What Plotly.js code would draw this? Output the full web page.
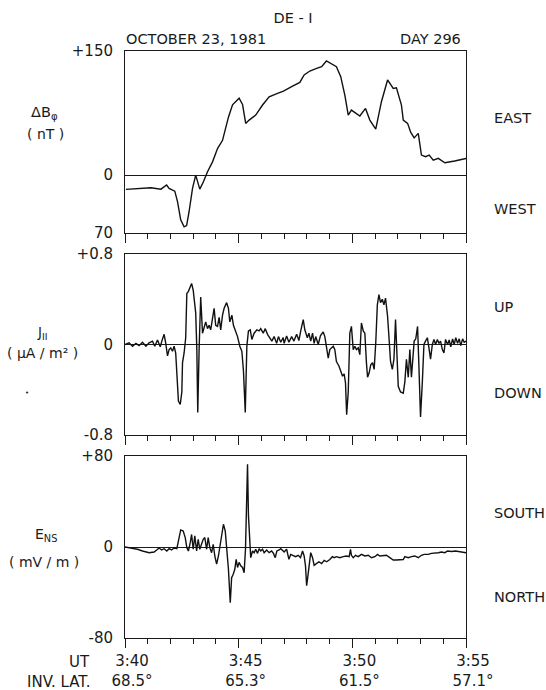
<!DOCTYPE html>
<html><head><meta charset="utf-8">
<script src="https://cdn.plot.ly/plotly-3.0.1.min.js"></script>
<style>html,body{margin:0;padding:0;background:#fff}#chart{width:546px;height:690px}</style>
</head><body><div id="chart"></div>
<script>
// Time in minutes after 03:40 UT (DE-1, October 23, 1981, day 296)
const dbTime = [0.04,0.55,1.14,1.58,1.83,1.94,2.19,2.31,2.45,2.60,2.71,2.82,2.97,3.11,3.29,3.45,3.63,3.85,4.07,4.29,4.43,4.55,4.73,5.02,5.17,5.31,5.46,5.75,6.05,6.34,6.71,6.97,7.33,7.69,7.88,8.13,8.43,8.65,8.86,9.08,9.30,9.49,9.67,9.82,9.96,10.33,10.58,10.77,11.03,11.28,11.55,11.80,11.94,12.16,12.24,12.43,12.57,12.72,12.90,13.04,13.22,13.38,13.56,13.78,14.07,14.5,15.0];
const dbValue = [-17.3,-16,-15.3,-17,-12,-16,-19.4,-32,-54,-62.5,-61,-44,-16,0,-17,-8,4,16,32,42,58,70,85,93,85.5,62.5,66.5,72.6,84.7,94.7,98.8,101.6,106.8,112,121,125.8,129,131,138,134,131,119,96.8,72.6,78.6,71.4,80.6,66.5,55.6,88.7,115,104.8,105.6,84.7,66.5,62.5,51.6,45,50.4,24.2,22.2,24.2,18.1,20.2,14.9,17,20];

const jTime = [0.00,0.18,0.33,0.48,0.62,0.77,0.92,1.06,1.21,1.31,1.43,1.55,1.62,1.72,1.79,1.87,1.94,2.01,2.09,2.16,2.23,2.31,2.35,2.43,2.50,2.53,2.60,2.67,2.72,2.79,2.87,2.93,3.00,3.07,3.11,3.16,3.20,3.26,3.33,3.41,3.48,3.55,3.63,3.70,3.77,3.85,3.92,3.99,4.07,4.14,4.21,4.29,4.36,4.47,4.55,4.61,4.70,4.77,4.85,4.95,5.05,5.14,5.21,5.29,5.36,5.43,5.51,5.58,5.68,5.80,5.90,5.97,6.08,6.17,6.27,6.37,6.46,6.56,6.67,6.75,6.85,6.96,7.00,7.11,7.21,7.33,7.43,7.55,7.65,7.73,7.84,7.91,8.02,8.09,8.17,8.25,8.32,8.39,8.50,8.60,8.72,8.79,8.87,8.94,9.01,9.08,9.16,9.23,9.30,9.41,9.49,9.57,9.64,9.70,9.75,9.82,9.89,9.96,10.04,10.11,10.18,10.26,10.33,10.40,10.48,10.55,10.62,10.67,10.74,10.81,10.89,10.96,11.03,11.10,11.17,11.24,11.32,11.39,11.46,11.55,11.61,11.68,11.76,11.83,11.90,11.94,12.02,12.12,12.24,12.31,12.38,12.46,12.53,12.60,12.68,12.72,12.79,12.87,12.93,13.00,13.08,13.15,13.22,13.30,13.37,13.44,13.52,13.59,13.66,13.74,13.81,13.88,13.96,14.03,14.10,14.19,14.26,14.33,14.41,14.48,14.55,14.63,14.70,14.77,14.85,14.92,15.0];
const jValue = [0,0.015,-0.015,0.01,-0.01,0.02,-0.015,0.015,0.03,-0.015,0.04,-0.02,0.03,0.09,0.015,-0.1,-0.045,-0.03,-0.06,-0.015,-0.075,-0.34,-0.5,-0.53,-0.42,-0.16,-0.075,0.06,0.45,0.47,0.51,0.54,0.48,0.31,0.28,-0.045,-0.6,-0.045,0.42,0.1,0.16,0.2,0.14,0.17,0.13,0.26,0.32,0.17,0.16,0.24,0.13,0.26,0.32,0.37,0.32,0.2,0.26,0.17,0.13,0.07,-0.015,-0.06,-0.23,-0.6,-0.015,0.12,0.13,0.045,0.1,0.13,0.12,0.14,0.1,0.14,0.09,0.06,0.03,0.07,0.01,0.07,0.02,0.06,0.01,0.075,0.02,0.07,0.03,0.09,0.035,0.12,0.22,0.13,0.06,0.1,0.03,0.1,0.01,0.07,0,0.08,0.11,0.07,-0.045,-0.12,-0.045,-0.03,-0.015,-0.045,-0.15,-0.19,-0.23,-0.28,-0.26,-0.34,-0.62,-0.42,0.1,0.16,-0.045,-0.015,-0.045,-0.03,-0.09,0.19,0.12,0.1,-0.16,-0.29,-0.25,-0.18,-0.16,-0.22,0.015,0.35,0.44,0.37,0.4,0.35,0.41,0.25,0.07,-0.15,-0.22,-0.13,0.22,-0.045,-0.37,-0.42,-0.43,-0.33,-0.13,-0.29,-0.045,-0.29,-0.07,0.03,0.05,0.16,-0.2,-0.64,-0.33,0,0.03,0.06,-0.03,-0.13,0,0.045,0,0.045,0.01,0.03,-0.045,-0.075,0.045,0,0.04,-0.02,0.05,0,0.06,0.01,0.05,-0.01,0.05,0.02,0.03];

const eTime = [0,0.26,0.55,0.77,1.06,1.28,1.43,1.50,1.61,1.72,1.84,1.94,2.05,2.16,2.28,2.35,2.45,2.56,2.65,2.72,2.79,2.87,2.93,3.00,3.07,3.15,3.22,3.29,3.37,3.44,3.51,3.59,3.66,3.73,3.81,3.88,3.95,4.03,4.11,4.19,4.26,4.33,4.41,4.48,4.55,4.63,4.69,4.76,4.83,4.89,4.95,5.02,5.09,5.17,5.24,5.30,5.35,5.39,5.43,5.49,5.53,5.61,5.68,5.75,5.83,5.90,5.97,6.05,6.12,6.23,6.34,6.45,6.53,6.61,6.68,6.78,6.85,6.96,7.00,7.11,7.21,7.29,7.40,7.50,7.62,7.72,7.81,7.88,7.94,7.99,8.03,8.09,8.17,8.25,8.32,8.42,8.53,8.65,8.76,8.87,9.01,9.12,9.20,9.30,9.45,9.60,9.74,9.86,9.92,9.96,10.04,10.14,10.26,10.40,10.55,10.70,10.84,10.99,11.11,11.21,11.36,11.50,11.65,11.80,11.94,12.09,12.24,12.31,12.46,12.60,12.75,12.90,13.04,13.16,13.34,13.48,13.63,13.78,13.92,14.07,14.19,14.36,14.54,14.72,15.0];
const eValue = [0,-0.9,-2,-3.5,-5,-4.4,-2,-0.9,-2.6,-1.5,-3.5,-1.5,-2.6,-0.9,-1.5,6.8,15,14,8.3,-0.6,-3.5,3.8,11,-2,9.8,-3.5,6.8,-2,2.4,6.8,8.3,-2,8.3,-0.6,-5,2.4,-7.9,-15,-7.9,3.8,12.6,20,14,-2,-19.6,-48.9,-27,-24,-19.6,-10.8,-18,-13.5,-16.5,-18,-22.6,-2,42,72.7,28,-2,-9.4,-3.5,-5,-2,-5.6,-1.5,-3.5,-2,-5,-2.6,-5,-3.5,-5.6,-9.4,-3.5,-2.6,-1.5,-3.5,-4.4,-2,-10.8,-6.5,-7.3,-8.5,-7.3,-9.4,-3.5,-7.9,-16.7,-34,-28,-16,-5,-9.4,-16,-14.6,-13,-14.6,-11.7,-13,-11,-8.5,-9.4,-8.5,-9.4,-8.5,-7.9,-8.5,-2,-7.3,-9.4,-7.3,-8.5,-6.5,-7.9,-7.3,-9.4,-8.5,-6.5,-7.9,-7.3,-7.3,-9.4,-11.4,-11.4,-11,-11,-8.5,-9.4,-8.5,-7.9,-9.4,-7.3,-6.5,-6.5,-5.6,-5.6,-5,-4.4,-5,-3.5,-4,-3.5,-4,-5];

const utTicks = [0,5,10,15];
const utLabels = ['3:40','3:45','3:50','3:55'];
const invLatLabels = ['68.5°','65.3°','61.5°','57.1°'];
const minuteTicks = [1,2,3,4,6,7,8,9,11,12,13,14];

const W=546,H=690,L=125,R=80,T=51,B=52;
const PW=W-L-R, PH=H-T-B;
const px = x => (x-L)/PW;
const py = y => (H-B-y)/PH;
const FONT = 'DejaVu Sans';
const INK = '#1a1a1a';

function xAxis(anchor, labels){
  const a = {
    range:[0,15], showline:true, mirror:true, linecolor:INK, linewidth:1,
    showgrid:false, zeroline:false, fixedrange:true, anchor:anchor,
    tickmode:'array', tickvals:utTicks, ticks:'outside', ticklen:9, tickwidth:1, tickcolor:INK,
    minor:{tickmode:'array', tickvals:minuteTicks, ticks:'outside', ticklen:5, tickwidth:1, tickcolor:INK, showgrid:false},
    showticklabels:!!labels
  };
  if(labels){
    a.ticktext = utLabels.map((u,i)=>u+'<br>'+invLatLabels[i]);
    a.tickfont = {family:FONT,size:15,color:INK};
    a.ticklabelshift = 7;
  }
  return a;
}
function yAxis(domain, range, vals, text){
  return {domain:domain, range:range, tickmode:'array', tickvals:vals, ticktext:text,
    ticks:'', showline:true, mirror:true, linecolor:INK, linewidth:1, showgrid:false,
    zeroline:true, zerolinecolor:INK, zerolinewidth:1, fixedrange:true,
    ticklabelstandoff:8, tickfont:{family:FONT,size:15,color:INK}};
}

const lineStyle = {color:'#111', width:1.4};
const data = [
  {x:dbTime, y:dbValue, xaxis:'x', yaxis:'y', type:'scatter', mode:'lines', line:lineStyle, hoverinfo:'skip'},
  {x:jTime, y:jValue, xaxis:'x2', yaxis:'y2', type:'scatter', mode:'lines', line:lineStyle, hoverinfo:'skip'},
  {x:eTime, y:eValue, xaxis:'x3', yaxis:'y3', type:'scatter', mode:'lines', line:lineStyle, hoverinfo:'skip'}
];

function ann(text, x, y, xanchor, size){
  return {text:text, xref:'paper', yref:'paper', x:px(x), y:py(y), xanchor:xanchor||'center', yanchor:'middle',
    showarrow:false, font:{family:FONT, size:size||14.5, color:INK}};
}
const annotations = [
  ann('OCTOBER 23, 1981', 124, 39, 'left'),
  ann('DAY 296', 463, 39, 'right'),
  ann('ΔB<sub>φ</sub>', 44, 113, 'center', 14.5),
  ann('( nT )', 45, 134, 'center', 14),
  ann('EAST', 492, 118, 'left'),
  ann('WEST', 492, 209, 'left'),
  ann('J<sub>II</sub>', 42, 333, 'center', 13.5),
  ann('( μA / m² )', 42, 353, 'center', 14),
  ann('•', 27, 393, 'center', 7),
  ann('UP', 492, 307, 'left'),
  ann('DOWN', 492, 393, 'left'),
  ann('E<sub>NS</sub>', 46, 535, 'center', 14),
  ann('( mV / m )', 44, 562, 'center', 14),
  ann('SOUTH', 492, 513, 'left'),
  ann('NORTH', 492, 597, 'left'),
  ann('UT', 92, 662, 'right', 15),
  ann('INV. LAT.', 92, 682, 'right', 15)
];

const layout = {
  width:W, height:H, margin:{l:L, r:R, t:T, b:B, pad:0},
  paper_bgcolor:'#fff', plot_bgcolor:'#fff', showlegend:false,
  title:{text:'DE - I', font:{family:FONT,size:14.5,color:INK}, xref:'paper', x:px(293), xanchor:'center', yref:'container', y:1-18/H, yanchor:'middle'},
  xaxis: xAxis('y', false),
  xaxis2: xAxis('y2', false),
  xaxis3: xAxis('y3', true),
  yaxis: yAxis([py(233),1], [-70,150], [-70,0,150], ['70','0','+150']),
  yaxis2: yAxis([py(435),py(254)], [-0.8,0.8], [-0.8,0,0.8], ['-0.8','0','+0.8']),
  yaxis3: yAxis([0,py(456)], [-80,80], [-80,0,80], ['-80','0','+80']),
  annotations: annotations
};
Plotly.newPlot('chart', data, layout, {displayModeBar:false, staticPlot:true});
</script>
</body></html>
